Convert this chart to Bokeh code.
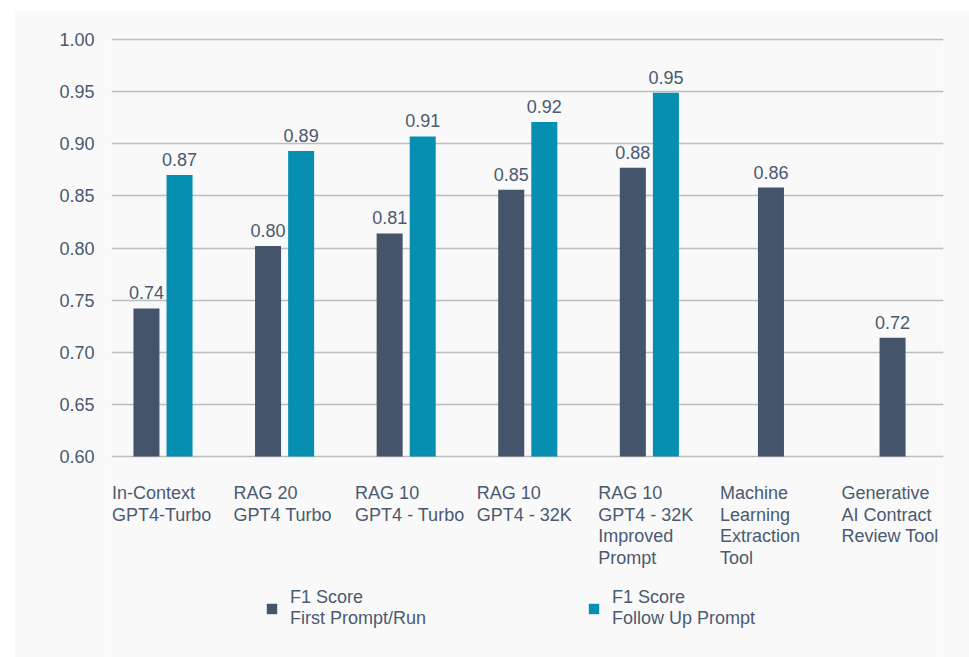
from bokeh.plotting import figure
from bokeh.models import ColumnDataSource, Range1d, FixedTicker, Legend, LegendItem, CustomJSTickFormatter
from bokeh.core.properties import value
from bokeh.embed import file_html
from bokeh.resources import INLINE

categories = [
    "In-Context\nGPT4-Turbo",
    "RAG 20\nGPT4 Turbo",
    "RAG 10\nGPT4 - Turbo",
    "RAG 10\nGPT4 - 32K",
    "RAG 10\nGPT4 - 32K\nImproved\nPrompt",
    "Machine\nLearning\nExtraction\nTool",
    "Generative\nAI Contract\nReview Tool",
]
first_prompt = [0.742, 0.802, 0.814, 0.856, 0.877, 0.858, 0.714]
follow_up = [0.870, 0.893, 0.907, 0.921, 0.949, None, None]
first_labels = ["0.74", "0.80", "0.81", "0.85", "0.88", "0.86", "0.72"]
follow_labels = ["0.87", "0.89", "0.91", "0.92", "0.95"]
y_ticks = [0.60, 0.65, 0.70, 0.75, 0.80, 0.85, 0.90, 0.95, 1.00]
series_names = ["F1 Score\nFirst Prompt/Run", "F1 Score\nFollow Up Prompt"]

DARK = "#44546A"
TEAL = "#078FB1"
TEXT = "#4A5A70"
BG = "#F9F9F9"
FONT = "Liberation Sans"
FS = "18px"

n = len(categories)
paired = [v is not None for v in follow_up]
off = 0.136
x_first = [i - off if paired[i] else i for i in range(n)]
fu_idx = [i for i in range(n) if follow_up[i] is not None]

src_first = ColumnDataSource(dict(x=x_first, top=first_prompt, lab=first_labels))
src_follow = ColumnDataSource(dict(
    x=[i + off for i in fu_idx],
    top=[follow_up[i] for i in fu_idx],
    lab=follow_labels,
))
src_cat = ColumnDataSource(dict(x=[i - 0.42 for i in range(n)], y=[0.5745] * n, t=categories))

p = figure(
    width=955, height=647, output_backend="svg", toolbar_location=None,
    x_range=Range1d(-0.4235, 6.419), y_range=Range1d(0.4072, 1.0029),
    min_border_left=97, min_border_right=26, min_border_top=26, min_border_bottom=0,
    background_fill_color=BG, border_fill_color=BG,
    outline_line_color=None,
    margin=(10, 0, 0, 14),
)
p.xaxis.visible = False
p.xgrid.visible = False

p.yaxis.ticker = FixedTicker(ticks=y_ticks)
p.yaxis.formatter = CustomJSTickFormatter(code="return tick.toFixed(2);")
p.yaxis.axis_line_color = None
p.yaxis.major_tick_line_color = None
p.yaxis.minor_tick_line_color = None
p.yaxis.major_label_text_font = FONT
p.yaxis.major_label_text_font_size = FS
p.yaxis.major_label_text_color = TEXT
p.yaxis.major_label_standoff = 11
p.ygrid.grid_line_color = "#BDBDBD"
p.ygrid.grid_line_width = 1.3

r1 = p.vbar(x="x", top="top", bottom=0.6, width=0.214, source=src_first,
            fill_color=DARK, line_color=None)
r2 = p.vbar(x="x", top="top", bottom=0.6, width=0.214, source=src_follow,
            fill_color=TEAL, line_color=None)

for src in (src_first, src_follow):
    p.text(x="x", y="top", text="lab", source=src, text_align="center",
           text_baseline="bottom", y_offset=-9, text_font=value(FONT),
           text_font_size=FS, text_color=TEXT)

p.text(x="x", y="y", text="t", source=src_cat, text_align="left",
       text_baseline="top", text_font=value(FONT), text_font_size=FS,
       text_color=TEXT, text_line_height=1.08)

legend = Legend(
    items=[LegendItem(label=series_names[0], renderers=[r1]),
           LegendItem(label=series_names[1], renderers=[r2])],
    orientation="horizontal", location=(154, 28),
    glyph_width=13, glyph_height=13, label_standoff=12, spacing=161,
    padding=0, margin=0,
    label_text_font=FONT, label_text_font_size=FS, label_text_color=TEXT,
    label_text_line_height=1.15,
    border_line_color=None, background_fill_alpha=0,
)
p.add_layout(legend)

open("out.html", "w").write(file_html(p, INLINE))
